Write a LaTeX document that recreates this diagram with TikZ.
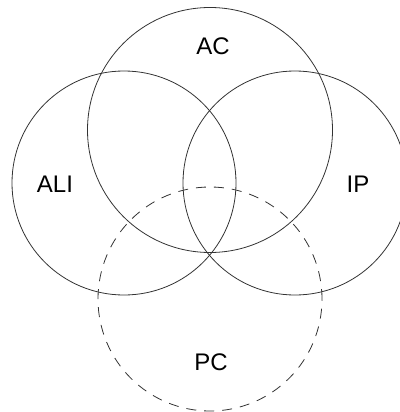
\documentclass[tikz,border=0pt]{standalone}
\usepackage{fontspec}
\setmainfont{Liberation Sans}
\usepackage{tikz}
\usetikzlibrary{positioning}

\begin{document}
\begin{tikzpicture}[
    x=1pt, y=-1pt,
    set/.style={circle, draw=black!80, line width=0.8pt, inner sep=0pt, minimum size=224pt},
    setname/.style={inner sep=0pt, font=\fontsize{24}{28}\selectfont}]

  \useasboundingbox (0,0) rectangle (399,412);

  % the four sets
  \node[set, minimum size=245pt] (ac) at (210,130) {};
  \node[set] (ali) at (124,183) {};
  \node[set] (ip) at (295,183) {};
  \node[set, dash pattern=on 10pt off 8pt] (pc) at (210,299) {};

  % their names
  \node[setname] (acname) at (213,46) {AC};
  \node[setname] (aliname) at (55,184) {ALI};
  \node[setname] (ipname) at (358,184) {IP};
  \node[setname] (pcname) at (211,362) {PC};
\end{tikzpicture}
\end{document}
